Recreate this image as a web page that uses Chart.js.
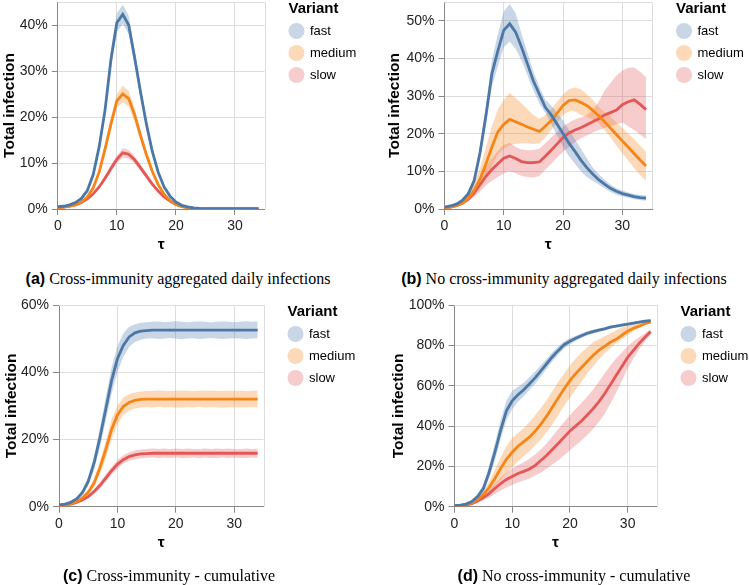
<!DOCTYPE html>
<html lang="en">
<head>
<meta charset="UTF-8">
<title>Total infection by variant</title>
<script src="https://cdn.jsdelivr.net/npm/chart.js"></script>
<style>
  body { margin: 0; background: #fff; }
  #wrap { position: relative; width: 749px; height: 585px; overflow: hidden; background: #fff; }
  canvas { position: absolute; }
  .cap { position: absolute; text-align: center; font-family: "Liberation Serif", "Times New Roman", serif; font-size: 16px; line-height: 20px; color: #000; white-space: nowrap; }
  .cap b { font-family: "Liberation Sans", Arial, sans-serif; }
</style>
</head>
<body>
<div id="wrap">
  <canvas id="chartA" width="374" height="262" style="left:0;top:0"></canvas>
  <canvas id="chartB" width="375" height="262" style="left:374px;top:0"></canvas>
  <canvas id="chartC" width="374" height="293" style="left:0;top:292px"></canvas>
  <canvas id="chartD" width="375" height="293" style="left:374px;top:292px"></canvas>
  <div class="cap" style="left:0;width:356px;top:269px"><b>(a)</b> Cross-immunity aggregated daily infections</div>
  <div class="cap" style="left:374px;width:380px;top:269px"><b>(b)</b> No cross-immunity aggregated daily infections</div>
  <div class="cap" style="left:0;width:338px;top:566px"><b>(c)</b> Cross-immunity - cumulative</div>
  <div class="cap" style="left:374px;width:400px;top:566px"><b>(d)</b> No cross-immunity - cumulative</div>
</div>

<script>
// x values (days) shared by all panels
const days = [0,1,2,3,4,5,6,7,8,9,10,11,12,13,14,15,16,17,18,19,20,21,22,23,24,25,26,27,28,29,30,31,32,33,34];
const variants = ["fast", "medium", "slow"];

// (a) cross-immunity, daily (% of population)
const aFast   = [0.5,0.6,0.9,1.4,2.3,4.0,7.5,13.5,21.5,32.5,40.5,42.3,40.0,33.0,25.5,18.5,12.5,8.0,4.8,2.8,1.5,0.8,0.45,0.25,0.15,0.1,0.1,0.1,0.1,0.1,0.1,0.1,0.1,0.1,0.1];
const aFastLo = [0.4,0.5,0.8,1.2,2.0,3.6,6.8,12.5,20.0,30.5,38.5,40.2,38.0,31.3,24.2,17.5,11.8,7.5,4.4,2.5,1.3,0.7,0.35,0.2,0.1,0.05,0.05,0.05,0.05,0.05,0.05,0.05,0.05,0.05,0.05];
const aFastHi = [0.6,0.7,1.0,1.6,2.6,4.4,8.2,14.5,23.0,34.5,42.5,44.4,42.0,34.7,26.8,19.5,13.2,8.5,5.2,3.1,1.7,0.9,0.55,0.3,0.2,0.15,0.15,0.15,0.15,0.15,0.15,0.15,0.15,0.15,0.15];
const aMed    = [0.3,0.4,0.6,0.9,1.5,2.6,4.6,8.0,13.0,18.5,23.5,25.0,24.0,20.5,16.0,11.8,8.2,5.3,3.2,1.8,1.0,0.5,0.25,0.12,0.06,0.03,0.02,0.02,0.02,0.02,0.02,0.02,0.02,0.02,0.02];
const aMedLo  = [0.25,0.35,0.5,0.8,1.3,2.3,4.2,7.3,12.0,17.2,22.0,23.2,22.3,19.0,14.8,10.9,7.5,4.8,2.9,1.6,0.9,0.45,0.2,0.1,0.05,0.02,0.01,0.01,0.01,0.01,0.01,0.01,0.01,0.01,0.01];
const aMedHi  = [0.35,0.45,0.7,1.0,1.7,2.9,5.0,8.7,14.0,19.8,25.0,26.8,25.7,22.0,17.2,12.7,8.9,5.8,3.5,2.0,1.1,0.55,0.3,0.15,0.08,0.04,0.03,0.03,0.03,0.03,0.03,0.03,0.03,0.03,0.03];
const aSlow   = [0.3,0.4,0.6,0.9,1.4,2.2,3.3,4.8,6.7,8.8,10.8,12.2,11.9,10.7,9.0,7.2,5.4,3.9,2.6,1.7,1.0,0.6,0.3,0.15,0.08,0.04,0.02,0.02,0.02,0.02,0.02,0.02,0.02,0.02,0.02];
const aSlowLo = [0.25,0.35,0.5,0.8,1.2,1.9,3.0,4.4,6.1,8.1,10.0,11.2,11.0,9.9,8.3,6.6,5.0,3.6,2.4,1.5,0.9,0.5,0.25,0.12,0.06,0.03,0.01,0.01,0.01,0.01,0.01,0.01,0.01,0.01,0.01];
const aSlowHi = [0.35,0.45,0.7,1.0,1.6,2.5,3.6,5.2,7.3,9.5,11.6,13.2,12.8,11.5,9.7,7.8,5.8,4.2,2.8,1.9,1.1,0.7,0.35,0.18,0.1,0.05,0.03,0.03,0.03,0.03,0.03,0.03,0.03,0.03,0.03];

// (b) no cross-immunity, daily
const bFast   = [0.5,0.8,1.3,2.3,4.0,7.5,15.0,25.0,36.0,42.0,47.5,49.2,47.0,43.0,38.5,34.0,30.5,27.0,25.0,22.5,20.0,17.5,15.3,13.0,11.0,9.3,7.8,6.6,5.5,4.7,4.1,3.7,3.3,3.0,2.9];
const bFastLo = [0.4,0.6,1.0,1.9,3.3,6.3,13.0,22.5,32.5,38.0,43.0,44.5,42.5,39.5,35.5,31.5,28.0,25.5,22.5,19.5,16.5,14.0,12.0,10.0,8.5,7.5,6.5,5.5,4.5,3.8,3.4,3.0,2.6,2.3,2.2];
const bFastHi = [0.6,1.0,1.6,2.8,4.8,8.8,17.0,27.5,39.5,46.5,52.5,54.5,52.0,46.5,41.5,36.5,32.5,29.0,27.5,25.5,23.5,21.0,18.5,16.0,13.5,11.0,9.3,7.8,6.5,5.5,4.9,4.4,4.0,3.7,3.6];
const bMed    = [0.3,0.5,0.9,1.5,2.8,5.0,8.0,12.0,16.5,20.5,22.5,23.8,23.2,22.5,21.8,21.2,20.6,22.0,23.5,25.5,27.5,28.8,29.0,28.3,27.5,26.2,24.8,23.2,21.5,19.8,18.1,16.4,14.7,13.0,11.4];
const bMedLo  = [0.2,0.4,0.7,1.2,2.1,3.6,5.5,8.0,11.5,14.5,16.0,17.0,17.3,17.5,17.5,17.3,17.5,19.0,21.0,23.0,25.0,26.0,26.0,25.0,24.5,23.7,22.8,21.0,19.0,16.8,14.8,12.8,10.8,9.0,7.5];
const bMedHi  = [0.4,0.6,1.1,1.9,3.6,6.6,11.0,16.5,22.0,26.5,29.0,30.8,29.5,28.0,26.5,25.0,24.0,25.0,26.5,28.5,30.5,31.8,32.3,31.8,30.5,29.0,27.2,25.8,24.5,23.0,21.5,20.0,18.5,16.8,15.2];
const bSlow   = [0.3,0.5,0.9,1.5,2.6,4.3,6.5,8.7,10.5,12.0,13.5,14.1,13.4,12.6,12.3,12.3,12.5,14.0,15.6,17.3,19.0,20.2,21.0,21.6,22.4,23.2,24.0,25.0,25.6,26.3,27.7,28.5,29.0,27.8,26.4];
const bSlowLo = [0.2,0.4,0.7,1.2,2.0,3.2,4.7,6.3,7.5,8.5,9.5,10.0,9.5,8.8,8.5,8.3,8.8,10.5,12.0,13.7,15.2,16.5,17.8,18.8,19.5,20.3,21.0,21.5,22.0,22.5,23.0,22.0,21.0,19.8,18.5];
const bSlowHi = [0.4,0.6,1.1,1.9,3.3,5.5,8.3,11.2,13.5,15.5,17.0,17.6,16.5,15.8,15.6,15.7,16.0,17.5,19.0,20.5,21.8,23.0,23.8,24.3,25.0,26.3,28.5,31.5,33.5,35.5,36.8,37.5,37.6,36.5,35.0];

// (c) cross-immunity, cumulative
const cFast   = [0.5,0.8,1.3,2.3,4.2,7.5,13.0,20.5,29.0,37.5,44.0,48.0,50.5,51.7,52.2,52.4,52.5,52.5,52.5,52.5,52.5,52.5,52.5,52.5,52.5,52.5,52.5,52.5,52.5,52.5,52.5,52.5,52.5,52.5,52.5];
const cFastLo = [0.4,0.6,1.0,1.8,3.4,6.2,11.0,17.5,25.5,33.5,40.0,44.5,47.5,49.0,49.7,50.0,50.1,49.9,50.0,50.2,50.0,49.8,50.0,50.1,49.9,50.0,50.2,50.0,49.9,50.0,50.1,50.0,49.9,50.0,50.1];
const cFastHi = [0.6,1.0,1.6,2.8,5.0,8.8,15.0,23.5,32.5,41.5,47.8,51.5,53.5,54.3,54.7,54.9,55.0,55.1,54.9,55.0,55.2,55.0,54.9,55.0,55.1,55.0,54.8,55.0,55.1,55.0,54.9,55.0,55.2,55.0,55.1];
const cMed    = [0.3,0.5,0.9,1.5,2.6,4.3,7.0,11.5,17.0,23.0,27.3,29.8,31.0,31.6,31.9,32.0,32.0,32.0,32.0,32.0,32.0,32.0,32.0,32.0,32.0,32.0,32.0,32.0,32.0,32.0,32.0,32.0,32.0,32.0,32.0];
const cMedLo  = [0.2,0.4,0.7,1.2,2.1,3.5,5.8,9.5,14.5,20.0,24.5,27.2,28.6,29.2,29.5,29.6,29.5,29.7,29.5,29.6,29.5,29.4,29.6,29.5,29.7,29.5,29.6,29.5,29.4,29.5,29.6,29.5,29.5,29.6,29.5];
const cMedHi  = [0.4,0.6,1.1,1.8,3.1,5.1,8.3,13.5,19.5,26.0,30.0,32.4,33.5,34.0,34.3,34.5,34.4,34.6,34.5,34.4,34.5,34.6,34.5,34.4,34.5,34.6,34.5,34.5,34.4,34.6,34.5,34.5,34.4,34.5,34.6];
const cSlow   = [0.3,0.5,0.8,1.3,2.0,3.0,4.5,6.3,8.5,10.7,12.6,14.0,14.9,15.4,15.7,15.8,15.9,15.9,15.9,15.9,15.9,15.9,15.9,15.9,15.9,15.9,15.9,15.9,15.9,15.9,15.9,15.9,15.9,15.9,15.9];
const cSlowLo = [0.2,0.4,0.6,1.0,1.6,2.5,3.8,5.4,7.4,9.5,11.4,12.8,13.7,14.1,14.4,14.5,14.6,14.5,14.6,14.5,14.6,14.5,14.5,14.6,14.5,14.6,14.5,14.5,14.6,14.5,14.6,14.5,14.5,14.6,14.5];
const cSlowHi = [0.4,0.6,1.0,1.6,2.4,3.5,5.2,7.2,9.6,11.9,13.9,15.3,16.2,16.7,17.0,17.2,17.3,17.2,17.3,17.2,17.3,17.2,17.3,17.2,17.2,17.3,17.2,17.3,17.2,17.3,17.2,17.2,17.3,17.2,17.3];

// (d) no cross-immunity, cumulative
const dFast   = [0.5,0.8,1.3,2.5,5.0,9.0,17.0,27.0,38.0,47.5,52.5,55.5,58.0,61.0,64.0,67.5,71.0,74.5,77.5,80.3,82.0,83.5,84.8,86.0,86.8,87.5,88.2,89.0,89.5,90.0,90.5,91.0,91.5,92.0,92.3];
const dFastLo = [0.4,0.6,1.0,2.0,4.0,7.3,14.0,23.0,33.5,43.0,48.5,52.0,54.8,58.0,61.0,64.8,68.5,72.3,75.5,78.6,80.6,82.2,83.6,84.9,85.8,86.6,87.4,88.2,88.8,89.3,89.9,90.4,90.9,91.4,91.7];
const dFastHi = [0.6,1.0,1.7,3.1,6.2,11.0,20.5,31.5,43.0,52.5,57.5,59.5,61.5,64.3,67.2,70.3,73.5,76.7,79.5,82.0,83.5,84.8,86.0,87.1,87.8,88.4,89.0,89.8,90.2,90.7,91.1,91.6,92.1,92.6,92.9];
const dMed    = [0.3,0.5,1.0,1.8,3.5,6.0,9.5,14.0,19.0,23.5,27.0,30.0,32.3,34.5,37.5,41.0,45.0,49.5,54.0,58.5,62.5,66.0,69.0,72.0,75.0,77.5,79.5,81.5,83.0,85.0,87.0,88.5,89.5,90.8,91.6];
const dMedLo  = [0.2,0.4,0.7,1.3,2.5,4.3,6.8,10.0,13.5,16.5,19.5,22.5,25.0,27.5,30.5,33.5,37.0,41.0,45.5,50.0,54.0,58.0,62.0,66.0,69.5,73.0,76.0,78.5,81.0,83.0,85.0,87.0,88.5,90.0,91.0];
const dMedHi  = [0.4,0.6,1.3,2.4,4.6,7.8,12.5,18.5,24.5,30.0,34.0,36.5,39.0,42.0,45.5,49.0,53.0,57.5,62.0,66.0,70.0,73.5,76.5,79.0,81.5,83.0,84.5,86.0,87.5,88.8,89.8,90.5,91.0,91.7,92.3];
const dSlow   = [0.3,0.5,0.8,1.5,2.8,4.5,6.5,9.0,11.5,13.5,15.0,16.5,17.5,18.7,20.5,23.0,25.5,28.5,31.5,34.5,37.5,40.0,42.5,45.5,48.5,52.0,56.0,60.5,65.0,69.5,74.0,77.5,81.0,84.0,86.8];
const dSlowLo = [0.2,0.4,0.6,1.1,2.0,3.2,4.6,6.3,8.0,9.5,10.8,12.0,13.0,14.0,15.5,17.0,19.0,21.0,23.0,25.5,28.0,30.5,33.0,35.5,38.5,42.0,46.0,51.0,56.5,62.5,68.5,73.5,78.0,82.0,85.5];
const dSlowHi = [0.4,0.6,1.0,2.0,3.7,6.0,8.5,11.5,14.5,17.0,19.0,20.5,22.0,23.8,26.0,28.5,31.5,35.0,38.5,42.0,45.5,48.5,51.5,54.5,58.0,62.0,66.0,70.0,73.5,76.5,79.5,82.0,84.0,86.0,88.0];

const lineColors = ["#4c78a8", "#f58518", "#e45756"];
const bandColors = ["rgba(76,120,168,0.3)", "rgba(245,133,24,0.3)", "rgba(228,87,86,0.3)"];
const sans = '"Liberation Sans", Arial, sans-serif';

Chart.defaults.font.family = sans;
Chart.defaults.color = "#222";

// light frame on top/right of the plot + the "Variant" legend
const panelDecor = {
    id: "panelDecor",
    beforeDatasetsDraw(chart) {
        const { ctx, chartArea: a } = chart;
        ctx.save();
        ctx.strokeStyle = "#ddd";
        ctx.lineWidth = 1;
        ctx.beginPath();
        ctx.moveTo(a.left, Math.round(a.top) + 0.5);
        ctx.lineTo(Math.round(a.right) + 0.5, Math.round(a.top) + 0.5);
        ctx.lineTo(Math.round(a.right) + 0.5, a.bottom);
        ctx.stroke();
        ctx.restore();
    },
    afterDraw(chart) {
        const { ctx, chartArea: a } = chart;
        const lx = a.right + 24, ly = a.top + 7;
        ctx.save();
        ctx.textAlign = "left";
        ctx.textBaseline = "middle";
        ctx.fillStyle = "#000";
        ctx.font = "bold 15px " + sans;
        ctx.fillText("Variant", lx, ly);
        chart.data.datasets.filter(d => !d.band).forEach((d, k) => {
            const cy = ly + 22 * (k + 1);
            ctx.beginPath();
            ctx.arc(lx + 8, cy, 8, 0, Math.PI * 2);
            ctx.fillStyle = d.swatch;
            ctx.fill();
            ctx.fillStyle = "#000";
            ctx.font = "13px " + sans;
            ctx.fillText(d.label, lx + 21.5, cy);
        });
        ctx.restore();
    }
};

function pts(arr) {
    return days.map((d, i) => ({ x: d, y: arr[i] }));
}

function makePanel(id, mids, los, his, yMax, yStep, box) {
    const canvas = document.getElementById(id);
    const W = canvas.width, H = canvas.height, xh = 45;
    const datasets = [];
    variants.forEach((name, i) => {
        datasets.push({ label: name + " low", band: true, data: pts(los[i]), borderWidth: 0, pointRadius: 0, fill: false, order: 2 });
        datasets.push({ label: name + " high", band: true, data: pts(his[i]), borderWidth: 0, pointRadius: 0, fill: "-1", backgroundColor: bandColors[i], order: 2 });
    });
    variants.forEach((name, i) => {
        datasets.push({ label: name, data: pts(mids[i]), borderColor: lineColors[i], swatch: bandColors[i], borderWidth: 2.8, pointRadius: 0, tension: 0, fill: false, order: 1 });
    });

    return new Chart(canvas.getContext("2d"), {
        type: "line",
        data: { datasets: datasets },
        options: {
            responsive: false,
            animation: false,
            devicePixelRatio: 1,
            events: [],
            layout: { padding: { left: 0, top: box.t, right: W - box.r, bottom: H - box.b - xh } },
            plugins: { legend: { display: false }, tooltip: { enabled: false } },
            scales: {
                x: {
                    type: "linear", min: 0, max: 35,
                    ticks: { stepSize: 10, includeBounds: false, padding: 3, font: { size: 14 } },
                    grid: { color: "#ddd", tickColor: "#888", tickLength: 6 },
                    border: { color: "#888" },
                    title: { display: true, text: "τ", color: "#000", padding: 0, font: { size: 15.5, weight: "bold" } },
                    afterFit(s) { s.height = xh; s.paddingLeft = 0; s.paddingRight = 0; }
                },
                y: {
                    type: "linear", min: 0, max: yMax,
                    ticks: { stepSize: yStep, includeBounds: false, padding: 4, font: { size: 14 }, callback: v => v + "%" },
                    grid: { color: "#ddd", tickColor: "#888", tickLength: 6 },
                    border: { color: "#888" },
                    title: { display: true, text: "Total infection", color: "#000", padding: { top: box.tp, bottom: 0 }, font: { size: 15.5, weight: "bold" } },
                    afterFit(s) { s.width = box.l; s.paddingTop = 0; s.paddingBottom = 0; }
                }
            }
        },
        plugins: [panelDecor]
    });
}

makePanel("chartA", [aFast, aMed, aSlow], [aFastLo, aMedLo, aSlowLo], [aFastHi, aMedHi, aSlowHi], 45, 10,
    { l: 57.8, r: 264.5, t: 2, b: 209, tp: 0 });
makePanel("chartB", [bFast, bMed, bSlow], [bFastLo, bMedLo, bSlowLo], [bFastHi, bMedHi, bSlowHi], 55, 10,
    { l: 70.5, r: 278, t: 2, b: 209, tp: 11.7 });
makePanel("chartC", [cFast, cMed, cSlow], [cFastLo, cMedLo, cSlowLo], [cFastHi, cMedHi, cSlowHi], 60, 20,
    { l: 59, r: 263.5, t: 13, b: 214.7, tp: 2.7 });
makePanel("chartD", [dFast, dMed, dSlow], [dFastLo, dMedLo, dSlowLo], [dFastHi, dMedHi, dSlowHi], 100, 20,
    { l: 80.5, r: 282.5, t: 13, b: 214.7, tp: 15.3 });
</script>
</body>
</html>
